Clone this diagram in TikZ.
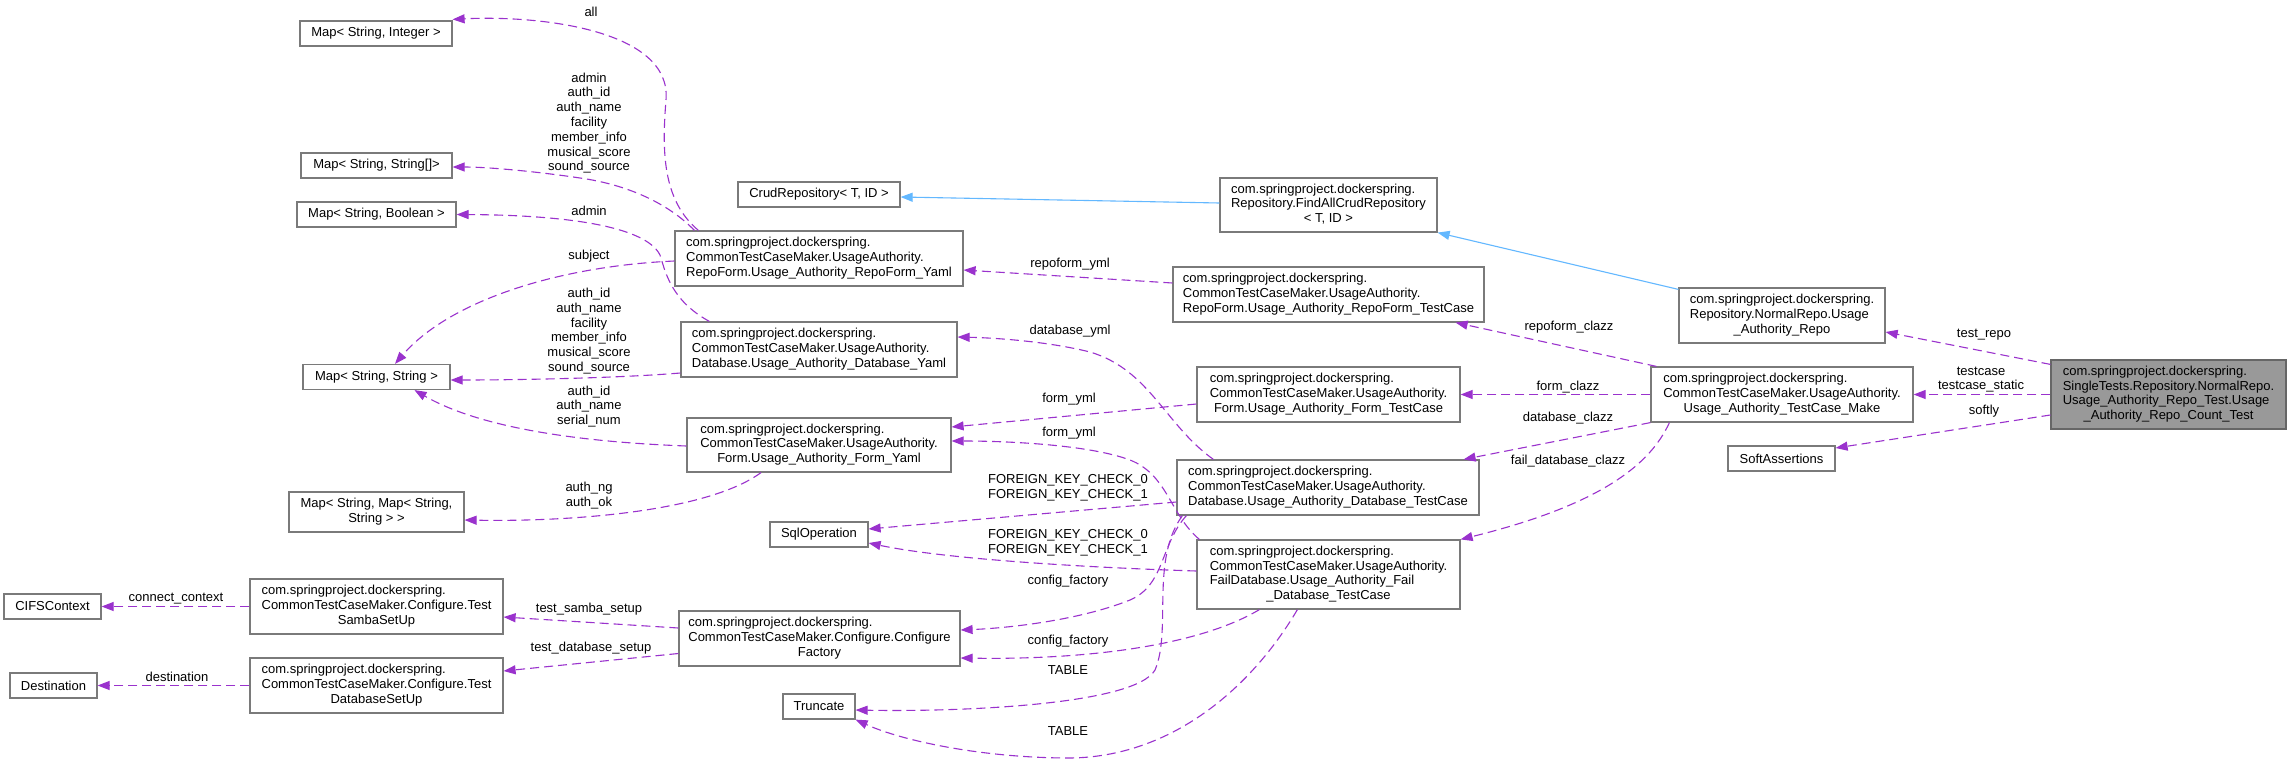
\documentclass[tikz,border=0pt]{standalone}
\usepackage{fontspec}
\setmainfont{Liberation Sans}
\usetikzlibrary{arrows.meta}
\definecolor{edgepurple}{HTML}{9A32CD}
\definecolor{inhblue}{HTML}{63B8FF}
\definecolor{boxborder}{HTML}{7A7A7A}
\definecolor{mainfill}{HTML}{999999}
\definecolor{mainborder}{HTML}{666666}
\newcommand{\ml}[2]{\begin{tabular}{@{}l@{}}#1\\\multicolumn{1}{@{}c@{}}{#2}\end{tabular}}
\begin{document}
\begin{tikzpicture}[x=1pt,y=-1pt,font=\fontsize{13}{14.8}\selectfont,
  cls/.style={draw=boxborder, fill=white, line width=1.2pt, inner sep=0pt, minimum height=25pt, align=center},
  mainnode/.style={cls, draw=mainborder, fill=mainfill},
  usedge/.style={draw=edgepurple, line width=1.1pt, dash pattern=on 9pt off 5pt, -{Triangle[length=12pt,width=9pt]}},
  inhedge/.style={draw=inhblue, line width=1.1pt, -{Triangle[length=12pt,width=9pt]}},
  elabel/.style={align=center, inner sep=0pt}]
\useasboundingbox (0,0) rectangle (2291,763);
\fill[white] (0,0) rectangle (2291,763);

% ---- nodes ----
\node[cls, minimum width=152pt] (mapint) at (376,33.5) {Map< String, Integer >};
\node[cls, minimum width=151pt] (mapstrarr) at (376.5,165.5) {Map< String, String[]>};
\node[cls, minimum width=159pt] (mapbool) at (376.5,214.5) {Map< String, Boolean >};
\node[cls, minimum width=147pt] (mapstrstr) at (376.5,377) {Map< String, String >};
\node[cls, minimum width=175pt, minimum height=40pt] (mapmap) at (376.5,512) {\ml{Map< String, Map< String,}{String > >}};
\node[cls, minimum width=97pt] (cifs) at (52.5,606.5) {CIFSContext};
\node[cls, minimum width=87pt] (dest) at (53.5,685.5) {Destination};
\node[cls, minimum width=253pt, minimum height=55pt] (samba) at (376.5,606.5) {\ml{com.springproject.dockerspring.\\CommonTestCaseMaker.Configure.Test}{SambaSetUp}};
\node[cls, minimum width=253pt, minimum height=55pt] (dbsetup) at (376.5,685.5) {\ml{com.springproject.dockerspring.\\CommonTestCaseMaker.Configure.Test}{DatabaseSetUp}};

\node[cls, minimum width=162pt] (crud) at (819,194.5) {CrudRepository< T, ID >};
\node[cls, minimum width=288pt, minimum height=55pt] (rfy) at (819,258.5) {\ml{com.springproject.dockerspring.\\CommonTestCaseMaker.UsageAuthority.}{RepoForm.Usage\_Authority\_RepoForm\_Yaml}};
\node[cls, minimum width=276pt, minimum height=55pt] (dby) at (819,349.5) {\ml{com.springproject.dockerspring.\\CommonTestCaseMaker.UsageAuthority.}{Database.Usage\_Authority\_Database\_Yaml}};
\node[cls, minimum width=264pt, minimum height=54pt] (fy) at (819,445) {\ml{com.springproject.dockerspring.\\CommonTestCaseMaker.UsageAuthority.}{Form.Usage\_Authority\_Form\_Yaml}};
\node[cls, minimum width=98pt] (sql) at (819,534.5) {SqlOperation};
\node[cls, minimum width=281pt, minimum height=55pt] (cf) at (819.5,638.5) {\ml{com.springproject.dockerspring.\\CommonTestCaseMaker.Configure.Configure}{Factory}};
\node[cls, minimum width=72pt] (trunc) at (819,706.5) {Truncate};

\node[cls, minimum width=217pt, minimum height=54pt] (findall) at (1328.5,205) {\ml{com.springproject.dockerspring.\\Repository.FindAllCrudRepository}{< T, ID >}};
\node[cls, minimum width=311pt, minimum height=55pt] (rftc) at (1328.5,294.5) {\ml{com.springproject.dockerspring.\\CommonTestCaseMaker.UsageAuthority.}{RepoForm.Usage\_Authority\_RepoForm\_TestCase}};
\node[cls, minimum width=263pt, minimum height=55pt] (ftc) at (1328.5,394.5) {\ml{com.springproject.dockerspring.\\CommonTestCaseMaker.UsageAuthority.}{Form.Usage\_Authority\_Form\_TestCase}};
\node[cls, minimum width=302pt, minimum height=55pt] (dbtc) at (1328,487.5) {\ml{com.springproject.dockerspring.\\CommonTestCaseMaker.UsageAuthority.}{Database.Usage\_Authority\_Database\_TestCase}};
\node[cls, minimum width=263pt, minimum height=69pt] (fdb) at (1328.5,574.5) {\ml{com.springproject.dockerspring.\\CommonTestCaseMaker.UsageAuthority.\\FailDatabase.Usage\_Authority\_Fail}{\_Database\_TestCase}};

\node[cls, minimum width=206pt, minimum height=55pt] (normal) at (1782,315.5) {\ml{com.springproject.dockerspring.\\Repository.NormalRepo.Usage}{\_Authority\_Repo}};
\node[cls, minimum width=262pt, minimum height=55pt] (make) at (1782,394.5) {\ml{com.springproject.dockerspring.\\CommonTestCaseMaker.UsageAuthority.}{Usage\_Authority\_TestCase\_Make}};
\node[cls, minimum width=107pt] (soft) at (1781.5,458.5) {SoftAssertions};
\node[mainnode, minimum width=235pt, minimum height=69pt] (main) at (2168.5,394.5) {\ml{com.springproject.dockerspring.\\SingleTests.Repository.NormalRepo.\\Usage\_Authority\_Repo\_Test.Usage}{\_Authority\_Repo\_Count\_Test}};

% ---- inheritance ----
\draw[inhedge] ([yshift=2pt]findall.west) -- ([yshift=-2.5pt]crud.east);
\draw[inhedge] ([yshift=-2pt]normal.north west) -- (findall.south east);

% ---- usage edges ----
\draw[usedge] ([xshift=24pt]rfy.north west) .. controls (662,200) and (662,150) .. (666,100) .. controls (672,30) and (540,15) .. ([yshift=1pt]mapint.north east);
\draw[usedge] ([xshift=20pt]rfy.north west) .. controls (670,205) and (630,185) .. (580,178) .. controls (540,172) and (490,167) .. ([yshift=-1.5pt]mapstrarr.east);
\draw[usedge] ([xshift=29pt]dby.north west) .. controls (670,300) and (665,270) .. (660,255) .. controls (645,225) and (560,215) .. (mapbool.east);
\draw[usedge] ([yshift=-2.5pt]rfy.west) .. controls (560,266) and (450,300) .. ([xshift=18.5pt]mapstrstr.north);
\draw[usedge] ([yshift=-23.5pt]dby.west) .. controls (620,378) and (520,380) .. ([yshift=-3pt]mapstrstr.east);
\draw[usedge] ([yshift=-1pt]fy.west) .. controls (580,442) and (480,428) .. ([xshift=38pt]mapstrstr.south);
\draw[usedge] ([xshift=-58pt]fy.south) .. controls (710,510) and (580,522) .. ([yshift=-8pt]mapmap.east);
\draw[usedge] (samba.west) -- (cifs.east);
\draw[usedge] (dbsetup.west) -- (dest.east);
\draw[usedge] ([yshift=10.5pt]cf.west) -- ([yshift=-10.5pt]samba.east);
\draw[usedge] ([yshift=-15pt]cf.west) -- ([yshift=14.5pt]dbsetup.east);

\draw[usedge] ([yshift=11.5pt]rftc.west) -- ([yshift=-11.5pt]rfy.east);
\draw[usedge] ([xshift=37pt]dbtc.north west) .. controls (1165,425) and (1150,370) .. (1090,352) .. controls (1050,342) and (1000,338) .. ([yshift=12.5pt]dby.east);
\draw[usedge] ([yshift=-9.5pt]ftc.west) -- ([yshift=18pt]fy.east);
\draw[usedge] ([xshift=3pt]fdb.north west) .. controls (1170,515) and (1168,475) .. (1130,460) .. controls (1090,445) and (1010,441) .. ([yshift=4pt]fy.east);
\draw[usedge] ([yshift=-14.5pt]dbtc.west) -- ([yshift=5.5pt]sql.east);
\draw[usedge] ([yshift=3.5pt]fdb.west) .. controls (1100,568) and (950,560) .. ([yshift=-8.5pt]sql.east);
\draw[usedge] ([xshift=10pt]dbtc.south west) .. controls (1160,545) and (1165,585) .. (1130,600) .. controls (1080,620) and (1010,628) .. ([yshift=8.5pt]cf.east);
\draw[usedge] ([xshift=63pt]fdb.south west) .. controls (1200,645) and (1090,660) .. ([yshift=-19.5pt]cf.east);
\draw[usedge] ([xshift=6pt]dbtc.south west) .. controls (1150,560) and (1172,630) .. (1155,670) .. controls (1135,705) and (960,712) .. ([yshift=-3.5pt]trunc.east);
\draw[usedge] ([xshift=101pt]fdb.south west) .. controls (1250,690) and (1170,757) .. (1070,758) .. controls (980,758) and (900,740) .. (trunc.south east);

\draw[usedge] ([xshift=6pt]make.north west) -- ([xshift=-29pt]rftc.south east);
\draw[usedge] (make.west) -- (ftc.east);
\draw[usedge] (make.south west) -- ([xshift=-16pt]dbtc.north east);
\draw[usedge] ([xshift=19pt]make.south west) .. controls (1650,465) and (1600,505) .. (fdb.north east);

\draw[usedge] ([yshift=-5pt]main.north west) -- ([yshift=-16.5pt]normal.east);
\draw[usedge] (main.west) -- (make.east);
\draw[usedge] ([yshift=-20.5pt]main.west) -- ([yshift=10.5pt]soft.east);

% ---- edge labels ----
\node[elabel] (l1) at (591,12) {all};
\node[elabel] (l2) at (589,123) {admin\\auth\_id\\auth\_name\\facility\\member\_info\\musical\_score\\sound\_source};
\node[elabel] (l3) at (589,211) {admin};
\node[elabel] (l4) at (589,256) {subject};
\node[elabel] (l5) at (589,331) {auth\_id\\auth\_name\\facility\\member\_info\\musical\_score\\sound\_source};
\node[elabel] (l6) at (589,406.5) {auth\_id\\auth\_name\\serial\_num};
\node[elabel] (l7) at (589,495.5) {auth\_ng\\auth\_ok};
\node[elabel] (l8) at (176,599) {connect\_context};
\node[elabel] (l9) at (177,677) {destination};
\node[elabel] (l10) at (589,609) {test\_samba\_setup};
\node[elabel] (l11) at (591,648) {test\_database\_setup};
\node[elabel] (l12) at (1070,264) {repoform\_yml};
\node[elabel] (l13) at (1070,331) {database\_yml};
\node[elabel] (l14) at (1069,399) {form\_yml};
\node[elabel] (l15) at (1069,433) {form\_yml};
\node[elabel] (l16) at (1068,487.5) {FOREIGN\_KEY\_CHECK\_0\\FOREIGN\_KEY\_CHECK\_1};
\node[elabel] (l17) at (1068,542.5) {FOREIGN\_KEY\_CHECK\_0\\FOREIGN\_KEY\_CHECK\_1};
\node[elabel] (l18) at (1068,581) {config\_factory};
\node[elabel] (l19) at (1068,641) {config\_factory};
\node[elabel] (l20) at (1068,670) {TABLE};
\node[elabel] (l21) at (1068,731) {TABLE};
\node[elabel] (l22) at (1569,327) {repoform\_clazz};
\node[elabel] (l23) at (1568,387) {form\_clazz};
\node[elabel] (l24) at (1568,418) {database\_clazz};
\node[elabel] (l25) at (1568,461) {fail\_database\_clazz};
\node[elabel] (l26) at (1984,335) {test\_repo};
\node[elabel] (l27) at (1981,379.5) {testcase\\testcase\_static};
\node[elabel] (l28) at (1984,411) {softly};
\end{tikzpicture}
\end{document}
